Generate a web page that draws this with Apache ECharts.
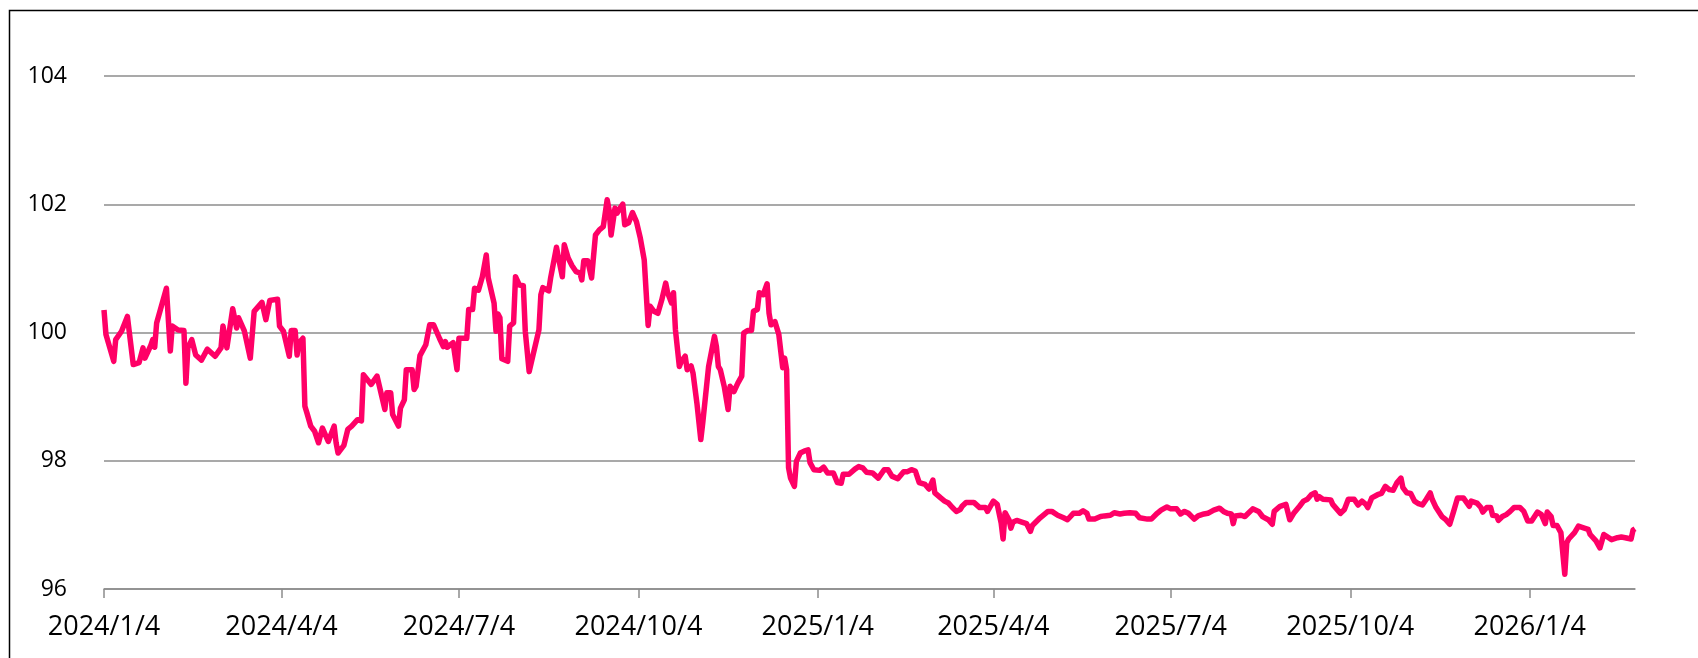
<!DOCTYPE html>
<html>
<head>
<meta charset="utf-8">
<script src="https://cdn.jsdelivr.net/npm/echarts@6/dist/echarts.min.js"></script>
<style>
  html, body { margin: 0; padding: 0; background: #fff; }
  #main { width: 1698px; height: 658px; }
</style>
</head>
<body>
<div id="main"></div>
<script>
// 日期与数值
const dates = [
  '2024-01-04','2024-01-05','2024-01-09','2024-01-10','2024-01-11','2024-01-13','2024-01-16','2024-01-17','2024-01-19','2024-01-22',
  '2024-01-24','2024-01-25','2024-01-28','2024-01-29','2024-01-30','2024-01-31','2024-02-01','2024-02-05','2024-02-07','2024-02-08',
  '2024-02-09','2024-02-11','2024-02-14','2024-02-15','2024-02-16','2024-02-18','2024-02-20','2024-02-23','2024-02-26','2024-03-01',
  '2024-03-04','2024-03-05','2024-03-07','2024-03-10','2024-03-12','2024-03-13','2024-03-16','2024-03-19','2024-03-21','2024-03-25',
  '2024-03-27','2024-03-29','2024-04-02','2024-04-03','2024-04-05','2024-04-08','2024-04-09','2024-04-11','2024-04-12','2024-04-13',
  '2024-04-15','2024-04-16','2024-04-17','2024-04-19','2024-04-21','2024-04-23','2024-04-25','2024-04-26','2024-04-28','2024-05-01',
  '2024-05-02','2024-05-03','2024-05-06','2024-05-08','2024-05-10','2024-05-13','2024-05-15','2024-05-16','2024-05-20','2024-05-23',
  '2024-05-27','2024-05-28','2024-05-30','2024-05-31','2024-06-03','2024-06-04','2024-06-06','2024-06-07','2024-06-10','2024-06-11',
  '2024-06-12','2024-06-14','2024-06-17','2024-06-19','2024-06-21','2024-06-24','2024-06-26','2024-06-27','2024-06-28','2024-07-01',
  '2024-07-03','2024-07-04','2024-07-08','2024-07-09','2024-07-11','2024-07-12','2024-07-14','2024-07-16','2024-07-17','2024-07-18',
  '2024-07-19','2024-07-22','2024-07-23','2024-07-24','2024-07-25','2024-07-26','2024-07-29','2024-07-30','2024-08-01','2024-08-02',
  '2024-08-04','2024-08-06','2024-08-07','2024-08-09','2024-08-11','2024-08-14','2024-08-15','2024-08-16','2024-08-19','2024-08-20',
  '2024-08-23','2024-08-24','2024-08-26','2024-08-27','2024-08-29','2024-08-30','2024-08-31','2024-09-02','2024-09-04','2024-09-05',
  '2024-09-06','2024-09-08','2024-09-10','2024-09-12','2024-09-14','2024-09-16','2024-09-18','2024-09-19','2024-09-20','2024-09-22',
  '2024-09-23','2024-09-25','2024-09-26','2024-09-27','2024-09-29','2024-10-01','2024-10-03','2024-10-05','2024-10-07','2024-10-08',
  '2024-10-09','2024-10-10','2024-10-12','2024-10-14','2024-10-16','2024-10-18','2024-10-19','2024-10-21','2024-10-22','2024-10-23',
  '2024-10-25','2024-10-26','2024-10-28','2024-10-29','2024-10-31','2024-11-01','2024-11-03','2024-11-05','2024-11-06','2024-11-09',
  '2024-11-12','2024-11-13','2024-11-14','2024-11-15','2024-11-17','2024-11-19','2024-11-20','2024-11-22','2024-11-24','2024-11-26',
  '2024-11-27','2024-11-29','2024-12-01','2024-12-02','2024-12-04','2024-12-05','2024-12-07','2024-12-09','2024-12-10','2024-12-11',
  '2024-12-13','2024-12-15','2024-12-16','2024-12-17','2024-12-18','2024-12-19','2024-12-20','2024-12-21','2024-12-23','2024-12-24',
  '2024-12-26','2024-12-28','2024-12-30','2024-12-31','2025-01-02','2025-01-05','2025-01-07','2025-01-09','2025-01-12','2025-01-14',
  '2025-01-16','2025-01-17','2025-01-20','2025-01-23','2025-01-25','2025-01-27','2025-01-29','2025-02-01','2025-02-04','2025-02-07',
  '2025-02-09','2025-02-11','2025-02-12','2025-02-14','2025-02-17','2025-02-19','2025-02-21','2025-02-23','2025-02-25','2025-02-28',
  '2025-03-01','2025-03-02','2025-03-04','2025-03-05','2025-03-08','2025-03-10','2025-03-12','2025-03-14','2025-03-16','2025-03-18',
  '2025-03-19','2025-03-21','2025-03-25','2025-03-26','2025-03-28','2025-03-31','2025-04-01','2025-04-04','2025-04-06','2025-04-08',
  '2025-04-09','2025-04-10','2025-04-12','2025-04-13','2025-04-14','2025-04-16','2025-04-19','2025-04-21','2025-04-23','2025-04-24',
  '2025-04-28','2025-05-02','2025-05-04','2025-05-07','2025-05-10','2025-05-12','2025-05-15','2025-05-18','2025-05-20','2025-05-22',
  '2025-05-23','2025-05-26','2025-05-27','2025-05-29','2025-05-31','2025-06-03','2025-06-05','2025-06-08','2025-06-10','2025-06-13',
  '2025-06-16','2025-06-18','2025-06-22','2025-06-24','2025-06-27','2025-06-29','2025-07-02','2025-07-04','2025-07-07','2025-07-09',
  '2025-07-11','2025-07-13','2025-07-16','2025-07-18','2025-07-21','2025-07-23','2025-07-26','2025-07-29','2025-07-31','2025-08-02',
  '2025-08-04','2025-08-05','2025-08-06','2025-08-09','2025-08-11','2025-08-15','2025-08-18','2025-08-20','2025-08-23','2025-08-25',
  '2025-08-26','2025-08-27','2025-08-29','2025-09-01','2025-09-03','2025-09-05','2025-09-08','2025-09-10','2025-09-12','2025-09-14',
  '2025-09-16','2025-09-17','2025-09-18','2025-09-20','2025-09-24','2025-09-25','2025-09-29','2025-10-01','2025-10-03','2025-10-06',
  '2025-10-08','2025-10-10','2025-10-12','2025-10-13','2025-10-15','2025-10-18','2025-10-20','2025-10-22','2025-10-24','2025-10-26',
  '2025-10-28','2025-10-30','2025-10-31','2025-11-02','2025-11-04','2025-11-06','2025-11-08','2025-11-10','2025-11-12','2025-11-14',
  '2025-11-15','2025-11-17','2025-11-20','2025-11-22','2025-11-24','2025-11-26','2025-11-28','2025-12-01','2025-12-02','2025-12-04',
  '2025-12-05','2025-12-08','2025-12-10','2025-12-11','2025-12-13','2025-12-15','2025-12-16','2025-12-18','2025-12-19','2025-12-21',
  '2025-12-23','2025-12-25','2025-12-27','2025-12-30','2026-01-01','2026-01-03','2026-01-05','2026-01-06','2026-01-08','2026-01-10',
  '2026-01-12','2026-01-13','2026-01-15','2026-01-16','2026-01-18','2026-01-20','2026-01-22','2026-01-23','2026-01-24','2026-01-27',
  '2026-01-29','2026-02-01','2026-02-03','2026-02-04','2026-02-07','2026-02-09','2026-02-11','2026-02-12','2026-02-15','2026-02-18',
  '2026-02-20','2026-02-22','2026-02-23','2026-02-25','2026-02-26','2026-02-27'
]

const values = [
  100.35, 99.97, 99.55, 99.89, 99.89, 100.02, 100.25, 100.25, 99.5, 99.53,
  99.76, 99.6, 99.8, 99.89, 99.77, 100.15, 100.17, 100.69, 99.71, 100.1,
  100.1, 100.04, 100.03, 99.21, 99.76, 99.89, 99.65, 99.57, 99.74, 99.63,
  99.76, 100.1, 99.76, 100.37, 100.07, 100.23, 100.02, 99.6, 100.33, 100.47,
  100.2, 100.5, 100.52, 100.1, 100.02, 99.63, 100.03, 100.03, 99.65, 99.84,
  99.91, 98.85, 98.75, 98.54, 98.46, 98.28, 98.51, 98.5, 98.3, 98.54,
  98.28, 98.12, 98.24, 98.49, 98.54, 98.64, 98.62, 99.34, 99.19, 99.32,
  98.8, 99.06, 99.06, 98.72, 98.54, 98.82, 98.95, 99.42, 99.42, 99.11,
  99.16, 99.64, 99.81, 100.12, 100.12, 99.91, 99.78, 99.86, 99.77, 99.84,
  99.42, 99.91, 99.91, 100.36, 100.36, 100.69, 100.66, 100.87, 100.87, 101.21,
  100.85, 100.46, 100.02, 100.29, 100.23, 99.59, 99.55, 100.1, 100.15, 100.87,
  100.74, 100.73, 100.02, 99.39, 99.65, 100.04, 100.59, 100.7, 100.65, 100.85,
  101.33, 101.17, 100.87, 101.37, 101.16, 101.18, 101.04, 100.95, 100.93, 100.82,
  101.12, 101.12, 100.85, 101.52, 101.6, 101.65, 102.07, 101.91, 101.52, 101.94,
  101.86, 101.96, 102.0, 101.68, 101.71, 101.87, 101.73, 101.47, 101.13, 100.62,
  100.11, 100.41, 100.33, 100.3, 100.51, 100.77, 100.62, 100.46, 100.62, 100.04,
  99.47, 99.55, 99.63, 99.42, 99.48, 99.37, 98.9, 98.33, 98.59, 99.47,
  99.94, 99.78, 99.47, 99.42, 99.16, 98.8, 99.16, 99.08, 99.21, 99.32,
  99.99, 100.03, 100.03, 100.33, 100.36, 100.62, 100.59, 100.76, 100.3, 100.12,
  100.17, 99.97, 99.71, 99.45, 99.6, 99.42, 97.89, 97.73, 97.6, 97.99,
  98.12, 98.15, 98.17, 97.97, 97.86, 97.85, 97.9, 97.81, 97.81, 97.66,
  97.65, 97.79, 97.79, 97.87, 97.91, 97.89, 97.82, 97.81, 97.73, 97.86,
  97.86, 97.76, 97.79, 97.72, 97.83, 97.83, 97.86, 97.84, 97.66, 97.63,
  97.66, 97.56, 97.7, 97.5, 97.42, 97.37, 97.34, 97.27, 97.21, 97.24,
  97.29, 97.35, 97.35, 97.38, 97.27, 97.27, 97.21, 97.37, 97.32, 97.03,
  96.78, 97.19, 97.08, 96.95, 97.04, 97.07, 97.04, 97.02, 96.9, 96.99,
  97.11, 97.21, 97.21, 97.15, 97.11, 97.08, 97.18, 97.18, 97.22, 97.18,
  97.09, 97.09, 97.06, 97.13, 97.14, 97.15, 97.19, 97.17, 97.18, 97.19,
  97.18, 97.11, 97.09, 97.09, 97.18, 97.23, 97.28, 97.25, 97.25, 97.17,
  97.21, 97.18, 97.09, 97.14, 97.17, 97.18, 97.23, 97.26, 97.21, 97.18,
  97.17, 97.02, 97.14, 97.15, 97.13, 97.25, 97.21, 97.13, 97.08, 97.01,
  97.21, 97.21, 97.29, 97.32, 97.08, 97.18, 97.29, 97.37, 97.4, 97.47,
  97.5, 97.4, 97.44, 97.4, 97.39, 97.32, 97.18, 97.24, 97.4, 97.4,
  97.31, 97.37, 97.32, 97.27, 97.42, 97.47, 97.49, 97.6, 97.55, 97.54,
  97.66, 97.73, 97.58, 97.5, 97.49, 97.37, 97.33, 97.31, 97.4, 97.5,
  97.4, 97.27, 97.13, 97.08, 97.01, 97.21, 97.42, 97.42, 97.41, 97.29,
  97.37, 97.34, 97.27, 97.2, 97.27, 97.27, 97.15, 97.14, 97.07, 97.13,
  97.16, 97.21, 97.27, 97.27, 97.21, 97.06, 97.06, 97.04, 97.2, 97.16,
  97.02, 97.2, 97.13, 96.99, 96.99, 96.88, 96.23, 96.72, 96.78, 96.88,
  96.98, 96.95, 96.93, 96.85, 96.75, 96.64, 96.85, 96.85, 96.77, 96.8,
  96.81, 96.8, 96.83, 96.78, 96.92, 96.94
]

// 横轴刻度日期
const tickDates = ['2024-01-04', '2024-04-04', '2024-07-04', '2024-10-04', '2025-01-04',
  '2025-04-04', '2025-07-04', '2025-10-04', '2026-01-04']
const axisStart = '2024-01-04'
const axisEnd = '2026-02-27'

const toTime = (s) => {
  const p = s.split('-')
  return new Date(+p[0], +p[1] - 1, +p[2]).getTime()
}

const seriesData = dates.map((d, i) => [toTime(d), values[i]])
const tickTimes = tickDates.map(toTime)

const myChart = echarts.init(document.getElementById('main'))

const option = {
  animation: false,
  backgroundColor: '#fff',
  textStyle: { fontFamily: 'Open Sans' },
  graphic: [
    {
      type: 'rect',
      left: 7,
      top: 8,
      shape: { width: 1720, height: 700 },
      style: { fill: 'none', stroke: '#000', lineWidth: 1.5 }
    }
  ],
  grid: {
    left: 104,
    right: 63,
    top: 76,
    bottom: 69
  },
  xAxis: {
    type: 'value',
    min: toTime(axisStart),
    max: toTime(axisEnd),
    axisLine: { lineStyle: { color: '#8c8c8c', width: 1.5 } },
    axisTick: {
      show: true,
      customValues: tickTimes,
      length: 9,
      lineStyle: { color: '#8c8c8c', width: 1.5 }
    },
    axisLabel: {
      customValues: tickTimes,
      color: '#000',
      fontSize: 27,
      margin: 25,
      hideOverlap: false,
      formatter: (v) => {
        const d = new Date(v)
        return d.getFullYear() + '/' + (d.getMonth() + 1) + '/' + d.getDate()
      }
    },
    splitLine: { show: false }
  },
  yAxis: {
    type: 'value',
    min: 96,
    max: 104,
    interval: 2,
    axisLine: { show: false },
    axisTick: { show: false },
    axisLabel: { color: '#000', fontSize: 23, margin: 37 },
    splitLine: { lineStyle: { color: '#8c8c8c', width: 1.5 } }
  },
  series: [
    {
      type: 'line',
      data: seriesData,
      showSymbol: false,
      symbol: 'none',
      lineStyle: { color: '#ff0066', width: 5.5, join: 'round' },
      z: 3
    }
  ]
}

myChart.setOption(option)
window.addEventListener('resize', () => {
  myChart.resize()
})
</script>
</body>
</html>
